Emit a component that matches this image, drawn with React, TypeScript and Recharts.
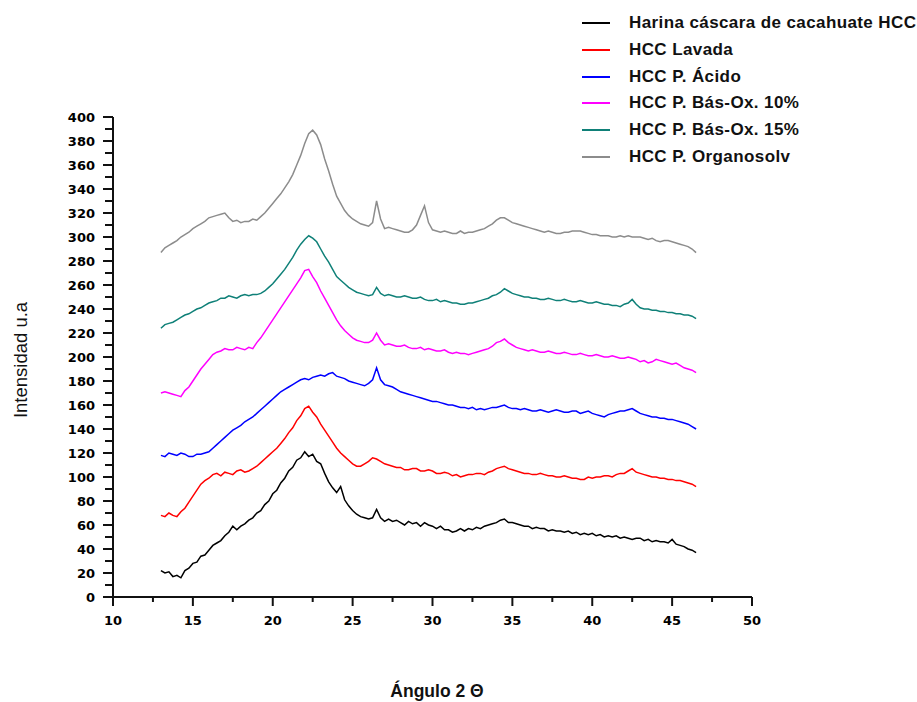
import { LineChart, Line, XAxis, YAxis, Label } from "recharts";

// 2θ angles (deg), 0.25° steps
const angles = [
  13, 13.25, 13.5, 13.75, 14, 14.25, 14.5, 14.75, 15, 15.25, 15.5, 15.75, 16, 16.25, 16.5, 16.75,
  17, 17.25, 17.5, 17.75, 18, 18.25, 18.5, 18.75, 19, 19.25, 19.5, 19.75, 20, 20.25, 20.5, 20.75,
  21, 21.25, 21.5, 21.75, 22, 22.25, 22.5, 22.75, 23, 23.25, 23.5, 23.75, 24, 24.25, 24.5, 24.75,
  25, 25.25, 25.5, 25.75, 26, 26.25, 26.5, 26.75, 27, 27.25, 27.5, 27.75, 28, 28.25, 28.5, 28.75,
  29, 29.25, 29.5, 29.75, 30, 30.25, 30.5, 30.75, 31, 31.25, 31.5, 31.75, 32, 32.25, 32.5, 32.75,
  33, 33.25, 33.5, 33.75, 34, 34.25, 34.5, 34.75, 35, 35.25, 35.5, 35.75, 36, 36.25, 36.5, 36.75,
  37, 37.25, 37.5, 37.75, 38, 38.25, 38.5, 38.75, 39, 39.25, 39.5, 39.75, 40, 40.25, 40.5, 40.75,
  41, 41.25, 41.5, 41.75, 42, 42.25, 42.5, 42.75, 43, 43.25, 43.5, 43.75, 44, 44.25, 44.5, 44.75,
  45, 45.25, 45.5, 45.75, 46, 46.25, 46.5,
];

const harina = [
  22, 20, 21, 17, 18, 16, 22, 24, 28, 29, 34, 35, 39, 43, 45, 47,
  51, 54, 59, 56, 59, 61, 64, 66, 70, 72, 77, 80, 86, 89, 95, 99,
  105, 108, 114, 116, 121, 117, 119, 113, 111, 103, 96, 91, 87, 92, 81, 76,
  72, 69, 67, 66, 65, 66, 73, 66, 63, 65, 63, 64, 62, 60, 63, 61,
  62, 59, 62, 60, 59, 57, 59, 56, 56, 54, 55, 57, 55, 57, 56, 58,
  57, 59, 60, 61, 62, 64, 65, 62, 62, 61, 60, 59, 59, 57, 58, 57,
  57, 55, 56, 55, 55, 54, 55, 53, 54, 52, 53, 52, 53, 51, 52, 50,
  51, 50, 51, 49, 50, 49, 48, 49, 49, 47, 48, 46, 47, 46, 46, 45,
  48, 44, 43, 42, 40, 39, 37,
];

const lavada = [
  68, 67, 70, 68, 67, 71, 74, 79, 84, 89, 94, 97, 99, 102, 103, 101,
  104, 103, 102, 105, 106, 104, 105, 107, 109, 112, 115, 118, 121, 124, 128, 132,
  137, 141, 147, 151, 157, 159, 154, 150, 144, 139, 134, 129, 124, 120, 117, 114,
  111, 109, 109, 111, 113, 116, 115, 113, 111, 110, 109, 108, 108, 106, 106, 107,
  107, 105, 105, 106, 105, 103, 103, 104, 103, 101, 102, 100, 101, 102, 102, 103,
  103, 102, 104, 105, 107, 108, 109, 107, 106, 105, 104, 103, 103, 102, 102, 103,
  102, 101, 101, 100, 100, 101, 100, 99, 99, 98, 98, 100, 99, 100, 100, 101,
  101, 100, 102, 103, 103, 105, 107, 104, 103, 102, 101, 100, 100, 99, 99, 98,
  98, 97, 97, 96, 95, 94, 92,
];

const acido = [
  118, 117, 120, 119, 118, 120, 119, 117, 117, 119, 119, 120, 121, 124, 127, 130,
  133, 136, 139, 141, 143, 146, 148, 150, 153, 156, 159, 162, 165, 168, 171, 173,
  175, 177, 179, 181, 182, 181, 183, 184, 185, 184, 186, 187, 184, 183, 182, 180,
  179, 178, 177, 176, 178, 181, 191, 181, 177, 176, 175, 173, 171, 170, 169, 168,
  167, 166, 165, 164, 163, 163, 162, 161, 160, 160, 159, 158, 158, 157, 158, 156,
  157, 156, 157, 158, 158, 159, 160, 158, 157, 157, 156, 157, 156, 155, 155, 156,
  155, 154, 155, 156, 155, 154, 154, 155, 155, 153, 154, 155, 153, 152, 151, 150,
  152, 153, 154, 155, 155, 156, 157, 155, 153, 152, 151, 150, 150, 149, 149, 148,
  148, 147, 146, 145, 144, 142, 140,
];

const basOx10 = [
  170, 171, 170, 169, 168, 167, 172, 175, 180, 185, 190, 194, 198, 202, 204, 205,
  207, 206, 206, 208, 207, 206, 208, 207, 212, 216, 221, 226, 231, 236, 241, 246,
  251, 256, 261, 266, 272, 273, 267, 262, 255, 249, 243, 237, 231, 226, 222, 219,
  216, 214, 213, 212, 212, 214, 220, 214, 210, 211, 210, 209, 209, 210, 208, 207,
  207, 208, 206, 207, 206, 205, 205, 206, 204, 203, 204, 203, 203, 202, 203, 204,
  205, 206, 207, 209, 212, 213, 215, 212, 210, 208, 207, 206, 205, 206, 205, 204,
  204, 205, 204, 203, 203, 204, 203, 202, 202, 203, 202, 201, 201, 202, 201, 200,
  200, 201, 200, 199, 199, 200, 199, 198, 196, 197, 195, 196, 198, 197, 196, 195,
  194, 195, 193, 191, 190, 189, 187,
];

const basOx15 = [
  224, 227, 228, 229, 231, 233, 235, 236, 238, 240, 241, 243, 245, 246, 247, 249,
  249, 251, 250, 249, 251, 252, 251, 252, 252, 253, 255, 258, 261, 265, 269, 273,
  278, 283, 289, 294, 298, 301, 299, 296, 290, 284, 279, 273, 267, 264, 261, 258,
  256, 254, 253, 252, 251, 252, 258, 253, 251, 252, 251, 250, 250, 251, 250, 249,
  249, 250, 248, 247, 247, 248, 246, 247, 246, 245, 245, 244, 244, 245, 245, 246,
  247, 248, 249, 251, 252, 254, 257, 255, 253, 252, 251, 250, 250, 249, 249, 248,
  248, 249, 248, 247, 247, 248, 247, 246, 246, 247, 246, 245, 245, 246, 245, 244,
  244, 243, 243, 242, 244, 245, 248, 244, 241, 240, 240, 239, 239, 238, 238, 237,
  237, 236, 236, 235, 235, 234, 232,
];

const organosolv = [
  287, 291, 293, 295, 297, 300, 302, 304, 307, 309, 311, 313, 316, 317, 318, 319,
  320, 316, 313, 314, 312, 313, 313, 315, 314, 317, 320, 324, 328, 332, 336, 341,
  346, 352, 360, 368, 378, 386, 389, 385, 377, 365, 355, 344, 334, 328, 322, 318,
  315, 313, 311, 310, 309, 312, 330, 315, 307, 308, 307, 306, 305, 304, 304, 306,
  310, 318, 326, 312, 306, 305, 304, 305, 304, 303, 303, 305, 303, 304, 304, 305,
  306, 307, 309, 311, 314, 316, 316, 314, 312, 311, 310, 309, 308, 307, 306, 305,
  304, 305, 304, 303, 303, 304, 304, 305, 305, 305, 304, 303, 302, 302, 301, 301,
  301, 300, 300, 301, 300, 301, 300, 300, 300, 299, 298, 299, 297, 296, 297, 297,
  296, 295, 294, 293, 292, 290, 287,
];

const yTicks = [
  0, 10, 20, 30, 40, 50, 60, 70, 80, 90, 100, 110, 120, 130, 140, 150, 160, 170,
  180, 190, 200, 210, 220, 230, 240, 250, 260, 270, 280, 290, 300, 310, 320, 330,
  340, 350, 360, 370, 380, 390, 400,
];
const xTicks = [10, 12.5, 15, 17.5, 20, 22.5, 25, 27.5, 30, 32.5, 35, 37.5, 40, 42.5, 45, 47.5, 50];

const series = [
  { key: "harina", name: "Harina cáscara de cacahuate HCC", color: "#000000", values: harina },
  { key: "lavada", name: "HCC Lavada", color: "#ff0000", values: lavada },
  { key: "acido", name: "HCC P. Ácido", color: "#0000ff", values: acido },
  { key: "bas10", name: "HCC P. Bás-Ox. 10%", color: "#ff00ff", values: basOx10 },
  { key: "bas15", name: "HCC P. Bás-Ox. 15%", color: "#0f8078", values: basOx15 },
  { key: "organo", name: "HCC P. Organosolv", color: "#8c8c8c", values: organosolv },
];

const data = angles.map((a, i) => {
  const row: Record<string, number> = { angle: a };
  series.forEach((s) => {
    row[s.key] = s.values[i];
  });
  return row;
});

const FONT = '"Liberation Sans", Arial, Helvetica, sans-serif';
const TICK_FONT = '"DejaVu Sans", Verdana, sans-serif';

function YTick({ x, y, payload }: any) {
  const major = payload.value % 20 === 0;
  return (
    <g>
      <line x1={x - (major ? 10 : 8)} x2={x} y1={y} y2={y} stroke="#111" strokeWidth={2} />
      {major && (
        <text
          x={x - 18}
          y={y}
          textAnchor="end"
          dominantBaseline="central"
          fontFamily={TICK_FONT}
          fontWeight={700}
          fontSize={13}
          fill="#000"
        >
          {payload.value}
        </text>
      )}
    </g>
  );
}

function XTick({ x, y, payload }: any) {
  const major = payload.value % 5 === 0;
  return (
    <g>
      <line x1={x} x2={x} y1={y} y2={y + (major ? 9 : 5)} stroke="#111" strokeWidth={2} />
      {major && (
        <text
          x={x}
          y={y + 23}
          textAnchor="middle"
          dominantBaseline="central"
          fontFamily={TICK_FONT}
          fontWeight={700}
          fontSize={13}
          fill="#000"
        >
          {payload.value}
        </text>
      )}
    </g>
  );
}

function LegendBox() {
  return (
    <div style={{ position: "absolute", left: 582, top: 10, fontFamily: FONT }}>
      {series.map((s) => (
        <div key={s.key} style={{ display: "flex", alignItems: "center", height: 26.7 }}>
          <span style={{ display: "inline-block", width: 28, height: 2, background: s.color, marginRight: 19 }} />
          <span style={{ fontSize: 17, letterSpacing: 0.4, fontWeight: 700, color: "#111", whiteSpace: "nowrap" }}>
            {s.name}
          </span>
        </div>
      ))}
    </div>
  );
}

export default function App() {
  return (
    <div style={{ position: "absolute", left: 0, top: 0, width: 917, height: 702, background: "#fff" }}>
      <LineChart
        width={917}
        height={702}
        data={data}
        margin={{ top: 117, right: 165, bottom: 65, left: 53 }}
      >
        <XAxis
          dataKey="angle"
          type="number"
          domain={[10, 50]}
          ticks={xTicks}
          interval={0}
          tick={<XTick />}
          tickSize={0}
          tickMargin={0}
          tickLine={false}
          axisLine={{ stroke: "#111", strokeWidth: 2 }}
          height={40}
        >
          <Label
            content={() => (
              <text x={437} y={691} textAnchor="middle" dominantBaseline="central" fontFamily={FONT} fontWeight={700} fontSize={17.5} fill="#111">
                Ángulo 2 Θ
              </text>
            )}
          />
        </XAxis>
        <YAxis
          type="number"
          domain={[0, 400]}
          ticks={yTicks}
          interval={0}
          tick={<YTick />}
          tickSize={0}
          tickMargin={0}
          tickLine={false}
          axisLine={{ stroke: "#111", strokeWidth: 2 }}
          width={60}
        >
          <Label
            content={() => (
              <text x={20} y={360} transform="rotate(-90 20 360)" textAnchor="middle" dominantBaseline="central" fontFamily={FONT} fontSize={18.5} fill="#111">
                Intensidad u.a
              </text>
            )}
          />
        </YAxis>
        {series.map((s) => (
          <Line
            key={s.key}
            dataKey={s.key}
            name={s.name}
            stroke={s.color}
            strokeWidth={1.5}
            dot={false}
            type="linear"
            isAnimationActive={false}
          />
        ))}
      </LineChart>
      <LegendBox />
    </div>
  );
}
